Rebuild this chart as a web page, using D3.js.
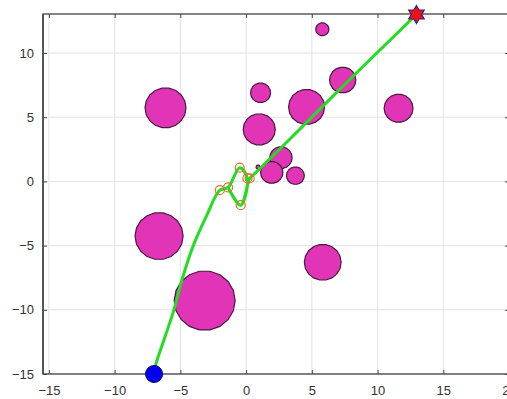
<!DOCTYPE html>
<html>
<head>
<meta charset="utf-8">
<script src="https://cdn.jsdelivr.net/npm/d3@7"></script>
<style>
body { margin:0; background:#fff; }
svg { display:block; }
.tick text { font-family:"Liberation Sans", Arial, sans-serif; font-size:13px; fill:#333; }
</style>
</head>
<body>
<svg id="graph1"></svg>
<script>
// obstacles
var obsX = [-6.13, 5.8, 1.1, 4.6, 7.35, 11.6, 1.0, 2.65, 1.95, 3.75, -6.62, -3.15, 5.83, 0.91]
var obsY = [5.73, 11.85, 6.9, 5.8, 7.9, 5.7, 4.05, 1.85, 0.7, 0.45, -4.26, -9.28, -6.3, 1.12]
var obsR = [1.56, 0.5, 0.76, 1.37, 1.0, 1.1, 1.22, 0.85, 0.85, 0.68, 1.83, 2.32, 1.4, 0.15]

// waypoints (orange rings)
var wpX = [-2.0, -1.37, -0.49, 0.1, 0.27, -0.41]
var wpY = [-0.68, -0.47, 1.07, 0.23, 0.23, -1.85]

// path taken
var pathX = [-7.0, -6.87, -6.2, -5.55, -4.79, -4.03, -3.02, -2.0, -1.37, -0.49, 0.1, -0.41, -1.37, -0.41, 0.27, 0.6, 2.65, 7.3, 12.3, 12.96]
var pathY = [-15.0, -14.25, -12.2, -10.2, -7.37, -5.04, -2.7, -0.68, -0.47, 1.07, 0.23, -1.85, -0.47, -1.85, 0.23, 0.56, 2.6, 7.35, 12.35, 13.0]

var startPt = [-7.0, -15.0]
var goalPt = [12.96, 13.0]

var xTicks = [-15, -10, -5, 0, 5, 10, 15, 20]
var yTicks = [-15, -10, -5, 0, 5, 10]

var screen = {width:507, height:399}
var margins = {left:43, right:-2, top:14, bottom:25}

var svg = d3.select("#graph1")
    .attr("width", screen.width)
    .attr("height", screen.height)

var xScale = d3.scaleLinear()
    .domain([-15.45, 20])
    .range([margins.left, screen.width - margins.right])
var yScale = d3.scaleLinear()
    .domain([-15, 13.04])
    .range([screen.height - margins.bottom, margins.top])

var x0 = xScale.range()[0], x1 = xScale.range()[1]
var y0 = yScale.range()[0], y1 = yScale.range()[1]

// grid
var grid = svg.append("g")
grid.selectAll(".gx").data(xTicks).enter().append("line")
    .attr("x1", function(d){ return xScale(d) }).attr("x2", function(d){ return xScale(d) })
    .attr("y1", y0).attr("y2", y1)
    .attr("stroke", "#e3e3e3").attr("stroke-width", 1)
grid.selectAll(".gy").data(yTicks).enter().append("line")
    .attr("y1", function(d){ return yScale(d) }).attr("y2", function(d){ return yScale(d) })
    .attr("x1", x0).attr("x2", x1)
    .attr("stroke", "#e3e3e3").attr("stroke-width", 1)

var plot = svg.append("g")

// obstacles as polygons
var nSides = 18
var obstacles = obsX.map(function(d, i){ return {x:d, y:obsY[i], r:obsR[i]} })
plot.selectAll(".obs").data(obstacles).enter().append("path")
    .attr("d", function(o){
        var pts = d3.range(nSides).map(function(k){
            var a = 2 * Math.PI * k / nSides
            return [xScale(o.x + o.r * Math.cos(a)), yScale(o.y + o.r * Math.sin(a))]
        })
        return "M" + pts.join("L") + "Z"
    })
    .attr("fill", "#e234b6")
    .attr("stroke", "#4a1840")
    .attr("stroke-width", 1.2)

// path
var pathData = pathX.map(function(d, i){ return [d, pathY[i]] })
var line = d3.line()
    .x(function(d){ return xScale(d[0]) })
    .y(function(d){ return yScale(d[1]) })
    .curve(d3.curveCatmullRom.alpha(0.5))
plot.append("path")
    .datum(pathData)
    .attr("d", line)
    .attr("fill", "none")
    .attr("stroke", "#22dd22")
    .attr("stroke-width", 3)
    .attr("stroke-linejoin", "round")

// waypoints
plot.selectAll(".wp").data(wpX).enter().append("circle")
    .attr("cx", function(d){ return xScale(d) })
    .attr("cy", function(d, i){ return yScale(wpY[i]) })
    .attr("r", 4.5)
    .attr("fill", "none")
    .attr("stroke", "#e0702a")
    .attr("stroke-width", 1.2)

// axes
var axes = svg.append("g")
axes.append("g")
    .attr("transform", "translate(0," + y0 + ")")
    .call(d3.axisBottom(xScale).tickValues(xTicks).tickSize(-4).tickPadding(12).tickFormat(d3.format("d")))
axes.append("g")
    .attr("transform", "translate(0," + y1 + ")")
    .call(d3.axisTop(xScale).tickValues(xTicks).tickSize(-4).tickFormat(""))
axes.append("g")
    .attr("transform", "translate(" + x0 + ",0)")
    .call(d3.axisLeft(yScale).tickValues(yTicks).tickSize(-4).tickPadding(9).tickFormat(d3.format("d")))
axes.append("g")
    .attr("transform", "translate(" + x1 + ",0)")
    .call(d3.axisRight(yScale).tickValues(yTicks).tickSize(-4).tickFormat(""))
axes.selectAll(".tick line").attr("stroke", "#444")
axes.selectAll(".domain").remove()
axes.append("rect")
    .attr("x", x0).attr("y", y1)
    .attr("width", x1 - x0).attr("height", y0 - y1)
    .attr("fill", "none").attr("stroke", "#444").attr("stroke-width", 1.3)
axes.append("line")
    .attr("x1", x0).attr("x2", x0).attr("y1", y1).attr("y2", y0)
    .attr("stroke", "#555").attr("stroke-width", 2)

// start and goal
svg.append("circle")
    .attr("cx", xScale(startPt[0])).attr("cy", yScale(startPt[1]))
    .attr("r", 8.5)
    .attr("fill", "#0000ee").attr("stroke", "#000066").attr("stroke-width", 1)

var starPts = d3.range(12).map(function(k){
    var a = -Math.PI / 2 + k * Math.PI / 6
    var r = k % 2 == 0 ? 9 : 5.2
    return [xScale(goalPt[0]) + r * Math.cos(a), yScale(goalPt[1]) + r * Math.sin(a)]
})
svg.append("path")
    .attr("d", "M" + starPts.join("L") + "Z")
    .attr("fill", "#ee1111").attr("stroke", "#3a1a88").attr("stroke-width", 1.2)
</script>
</body>
</html>
